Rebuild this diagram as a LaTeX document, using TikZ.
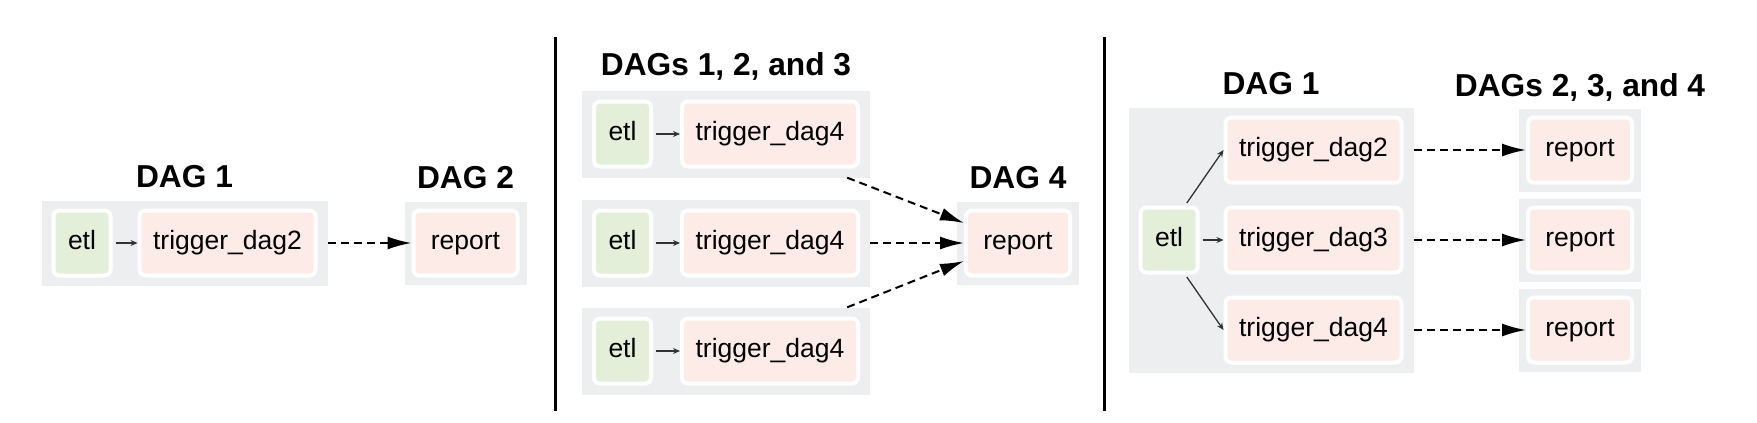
\documentclass[tikz,border=0pt]{standalone}
\usepackage{fontspec}
\setmainfont{Liberation Sans}
\usetikzlibrary{arrows.meta, positioning, fit, backgrounds}
\definecolor{dagbg}{HTML}{EDEEF0}
\definecolor{taskpink}{HTML}{FCEBE7}
\definecolor{taskgreen}{HTML}{E4EFDA}
\definecolor{edgegray}{HTML}{333333}
\tikzset{
  task/.style={draw=white, line width=4pt, rounded corners=6pt, fill=taskpink,
    minimum height=65pt, inner sep=0pt, text height=19pt, text depth=6pt,
    font=\fontsize{26.5}{30}\selectfont},
  etlbox/.style={task, fill=taskgreen, minimum width=57pt},
  trigbox/.style={task, minimum width=176pt},
  reportbox/.style={task, minimum width=104pt},
  dag/.style={fill=dagbg, inner xsep=10pt, inner ysep=8pt},
  title/.style={font=\bfseries\fontsize{31.7}{36}\selectfont, inner sep=0pt},
  upstream/.style={-{Stealth[length=7pt,width=6pt]}, line width=1.3pt, draw=edgegray, shorten <=3pt},
  triggers/.style={-{Latex[length=24pt,width=13pt]}, line width=2pt, dash pattern=on 8pt off 5pt},
  divider/.style={line width=3pt}
}
\begin{document}
\begin{tikzpicture}[x=1pt, y=-1pt, node distance=100pt, on grid]
    \useasboundingbox (0,0) rectangle (1757,423);

    % one dag triggers the next
    \node[etlbox]       (etlA)    at (82,243)                   {etl};
    \node[trigbox]      (trigA)   [right=145.5pt of etlA]       {trigger\_dag2};
    \node[reportbox]    (repA)    [right=238pt of trigA]        {report};

    % three dags trigger one
    \node[etlbox]       (etlB1)   at (622.5,134)                {etl};
    \node[etlbox]       (etlB2)   [below=109pt of etlB1]        {etl};
    \node[etlbox]       (etlB3)   [below=108pt of etlB2]        {etl};
    \node[trigbox]      (trigB1)  [right=147.5pt of etlB1]      {trigger\_dag4};
    \node[trigbox]      (trigB2)  [right=147.5pt of etlB2]      {trigger\_dag4};
    \node[trigbox]      (trigB3)  [right=147.5pt of etlB3]      {trigger\_dag4};
    \node[reportbox]    (repB)    at (1018,243)                 {report};

    % one dag triggers three
    \node[etlbox]       (etlC)    at (1169,240)                 {etl};
    \node[trigbox]      (trigC2)  [above right=90pt and 144.5pt of etlC] {trigger\_dag2};
    \node[trigbox]      (trigC3)  [right=144.5pt of etlC]       {trigger\_dag3};
    \node[trigbox]      (trigC4)  [below right=90pt and 144.5pt of etlC] {trigger\_dag4};
    \node[reportbox]    (repC2)   [right=266.5pt of trigC2]     {report};
    \node[reportbox]    (repC3)   [right=266.5pt of trigC3]     {report};
    \node[reportbox]    (repC4)   [right=266.5pt of trigC4]     {report};

    \begin{scope}[on background layer]
        \node[dag, fit=(etlA)(trigA)]           (dagA1) {};
        \node[dag, inner xsep=7pt, inner ysep=7pt, fit=(repA)]  (dagA2) {};
        \node[dag, inner ysep=9pt, fit=(etlB1)(trigB1)] (dagB1) {};
        \node[dag, inner ysep=9pt, fit=(etlB2)(trigB2)] (dagB2) {};
        \node[dag, inner ysep=9pt, fit=(etlB3)(trigB3)] (dagB3) {};
        \node[dag, inner xsep=7pt, inner ysep=7pt, fit=(repB)]  (dagB4) {};
        \node[dag, fit=(etlC)(trigC2)(trigC4)]  (dagC1) {};
        \node[dag, inner xsep=7pt, inner ysep=7pt, fit=(repC2)] (dagC2) {};
        \node[dag, inner xsep=7pt, inner ysep=7pt, fit=(repC3)] (dagC3) {};
        \node[dag, inner xsep=7pt, inner ysep=7pt, fit=(repC4)] (dagC4) {};
    \end{scope}

    \node[title] (tA1) [above=13pt of dagA1.north, anchor=base] {DAG 1};
    \node[title] (tA2) [above=13pt of dagA2.north, anchor=base] {DAG 2};
    \node[title] (tB1) [above=15pt of dagB1.north, anchor=base] {DAGs 1, 2, and 3};
    \node[title] (tB4) [above=13pt of dagB4.north, anchor=base] {DAG 4};
    \node[title] (tC1) [above=13pt of dagC1.north, anchor=base] {DAG 1};
    \node[title] (tC2) [above=12pt of dagC2.north, anchor=base] {DAGs 2, 3, and 4};

    \path[upstream] (etlA) edge (trigA)
        (etlB1) edge (trigB1)
        (etlB2) edge (trigB2)
        (etlB3) edge (trigB3)
        (etlC) edge (trigC3);
    \draw[upstream] (etlC.65) -- (trigC2.west);
    \draw[upstream] (etlC.295) -- (trigC4.west);

    \path[triggers] (dagA1) edge (repA.west)
        ([xshift=-23pt]dagB1.south east) edge ([yshift=20pt]repB.west)
        (dagB2) edge (repB.west)
        ([xshift=-23pt]dagB3.north east) edge ([yshift=-18pt]repB.west)
        (trigC2 -| dagC1.east) edge (repC2.west)
        (trigC3 -| dagC1.east) edge (repC3.west)
        (trigC4 -| dagC1.east) edge (repC4.west);

    \draw[divider] (555,37) -- (555,411);
    \draw[divider] (1104,37) -- (1104,411);
\end{tikzpicture}
\end{document}
